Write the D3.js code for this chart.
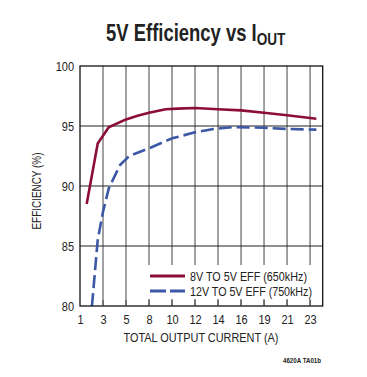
<!DOCTYPE html>
<html><head><meta charset="utf-8">
<script src="https://cdn.jsdelivr.net/npm/d3@7"></script>
<style>
html,body{margin:0;padding:0;background:#fff;}
svg{display:block;}
text{font-family:"Liberation Sans",Arial,sans-serif;}
</style></head>
<body>
<svg id="chart" width="367" height="377"></svg>
<script>
// ---- data ----
const xTicks = [1, 3, 5, 8, 10, 12, 14, 16, 19, 21, 23];
const xMax = 24;
const yTicks = [80, 85, 90, 95, 100];

const seriesNames = ["8V TO 5V EFF (650kHz)", "12V TO 5V EFF (750kHz)"];

const currentA8 = [1.58, 2.54, 3.5, 5, 6.5, 8, 9.45, 10.5, 12, 14, 16, 19, 21, 23.5];
const eff8 = [88.5, 93.55, 94.9, 95.55, 95.85, 96.1, 96.4, 96.45, 96.5, 96.4, 96.3, 96.1, 95.9, 95.6];

const currentA12 = [2.04, 2.54, 3, 3.5, 4.48, 5.43, 8, 10, 12, 13.6, 15.3, 19, 21, 23.5];
const eff12 = [80, 85.5, 87.85, 89.8, 91.75, 92.5, 93.14, 93.97, 94.47, 94.75, 94.9, 94.86, 94.75, 94.7];

// ---- layout ----
const svg = d3.select("#chart");
const L = 80, R = 322.7, T = 66, B = 306;
const W = R - L;
const nSteps = (xTicks.length - 1) + 0.55;
const step = W / nSteps;
const xDomain = xTicks.concat([xMax]);
const xRange = xTicks.map((d, i) => L + i * step).concat([R]);
const x = d3.scaleLinear().domain(xDomain).range(xRange);
const y = d3.scaleLinear().domain([80, 100]).range([B, T]);

const red = "#8c0d36", blue = "#3b57a6", ink = "#222";

function condense(sel, f) {
  sel.each(function () {
    const len = this.getComputedTextLength();
    d3.select(this).attr("textLength", len * f).attr("lengthAdjust", "spacingAndGlyphs");
  });
}

// title
const title = svg.append("text").attr("x", 196).attr("y", 41).attr("text-anchor", "middle")
  .style("font-weight", "bold").style("font-size", "23px").attr("fill", ink);
title.append("tspan").text("5V Efficiency vs I");
title.append("tspan").attr("dy", 4).style("font-size", "17px").text("OUT");
{
  const bb = title.node().getBBox();
  const s = 180 / bb.width;
  const cx = bb.x + bb.width / 2;
  title.attr("transform", `translate(196,0) scale(${s},1) translate(${-cx},0)`);
}

// grid
svg.append("g").selectAll("line").data(xTicks.slice(1)).join("line")
  .attr("x1", d => x(d)).attr("x2", d => x(d)).attr("y1", T).attr("y2", B)
  .attr("stroke", "#444").attr("stroke-width", 1);
svg.append("g").selectAll("line").data(yTicks.slice(1, -1)).join("line")
  .attr("x1", L).attr("x2", R).attr("y1", d => y(d)).attr("y2", d => y(d))
  .attr("stroke", "#222").attr("stroke-width", 1.1);

// axes tick labels
const xAxis = d3.axisBottom(x).tickValues(xTicks).tickSize(0).tickPadding(9);
const gx = svg.append("g").attr("transform", `translate(0,${B})`).call(xAxis);
gx.select(".domain").remove();
gx.selectAll("text").style("font-size", "12.5px").style("font-family", "'Liberation Sans',Arial,sans-serif").attr("fill", ink).call(condense, 0.88);

const yAxis = d3.axisLeft(y).tickValues(yTicks).tickSize(0).tickPadding(6);
const gy = svg.append("g").attr("transform", `translate(${L},0)`).call(yAxis);
gy.select(".domain").remove();
gy.selectAll("text").style("font-size", "12.5px").style("font-family", "'Liberation Sans',Arial,sans-serif").attr("fill", ink).call(condense, 0.88);

// axis titles
svg.append("text").attr("x", 201).attr("y", 342).attr("text-anchor", "middle")
  .style("font-size", "13px").attr("fill", ink).text("TOTAL OUTPUT CURRENT (A)")
  .attr("textLength", 155).attr("lengthAdjust", "spacingAndGlyphs");
svg.append("text").attr("transform", `translate(41,${(T + B) / 2 + 5}) rotate(-90)`)
  .attr("text-anchor", "middle").style("font-size", "12px").attr("fill", ink)
  .text("EFFICIENCY (%)").attr("textLength", 77).attr("lengthAdjust", "spacingAndGlyphs");

// legend box (hides grid)
svg.append("rect").attr("x", 140).attr("y", 265).attr("width", R - 140).attr("height", 34).attr("fill", "#fff");

// lines
const line = d3.line().x(d => x(d[0])).y(d => y(d[1]));
svg.append("path").datum(currentA8.map((c, i) => [c, eff8[i]]))
  .attr("d", line).attr("fill", "none").attr("stroke", red).attr("stroke-width", 2.6)
  .attr("stroke-linejoin", "round");
svg.append("path").datum(currentA12.map((c, i) => [c, eff12[i]]))
  .attr("d", line).attr("fill", "none").attr("stroke", blue).attr("stroke-width", 2.6)
  .attr("stroke-linejoin", "round").attr("stroke-dasharray", "13,5");

// frame
svg.append("rect").attr("x", L).attr("y", T).attr("width", W).attr("height", B - T)
  .attr("fill", "none").attr("stroke", "#111").attr("stroke-width", 1.3);

// bottom tick stubs under legend
svg.append("g").selectAll("line").data(xTicks.slice(1)).join("line")
  .attr("x1", d => x(d)).attr("x2", d => x(d)).attr("y1", B - 6).attr("y2", B)
  .attr("stroke", "#444");

// legend
const lg = svg.append("g");
const colors = [red, blue];
const dashes = [null, "16,4"];
const legendW = [117, 122];
seriesNames.forEach((name, i) => {
  const ly = 276 + i * 15;
  lg.append("line").attr("x1", 150).attr("x2", 185).attr("y1", ly).attr("y2", ly)
    .attr("stroke", colors[i]).attr("stroke-width", 2.8).attr("stroke-dasharray", dashes[i]);
  lg.append("text").attr("x", 190).attr("y", ly + 4.5).style("font-size", "12.5px")
    .attr("fill", ink).text(name).attr("textLength", legendW[i]).attr("lengthAdjust", "spacingAndGlyphs");
});

// footer
svg.append("text").attr("x", 283).attr("y", 363).style("font-size", "7px")
  .style("font-weight", "bold").attr("fill", ink).text("4620A TA01b")
  .attr("textLength", 38).attr("lengthAdjust", "spacingAndGlyphs");
</script>
</body></html>
